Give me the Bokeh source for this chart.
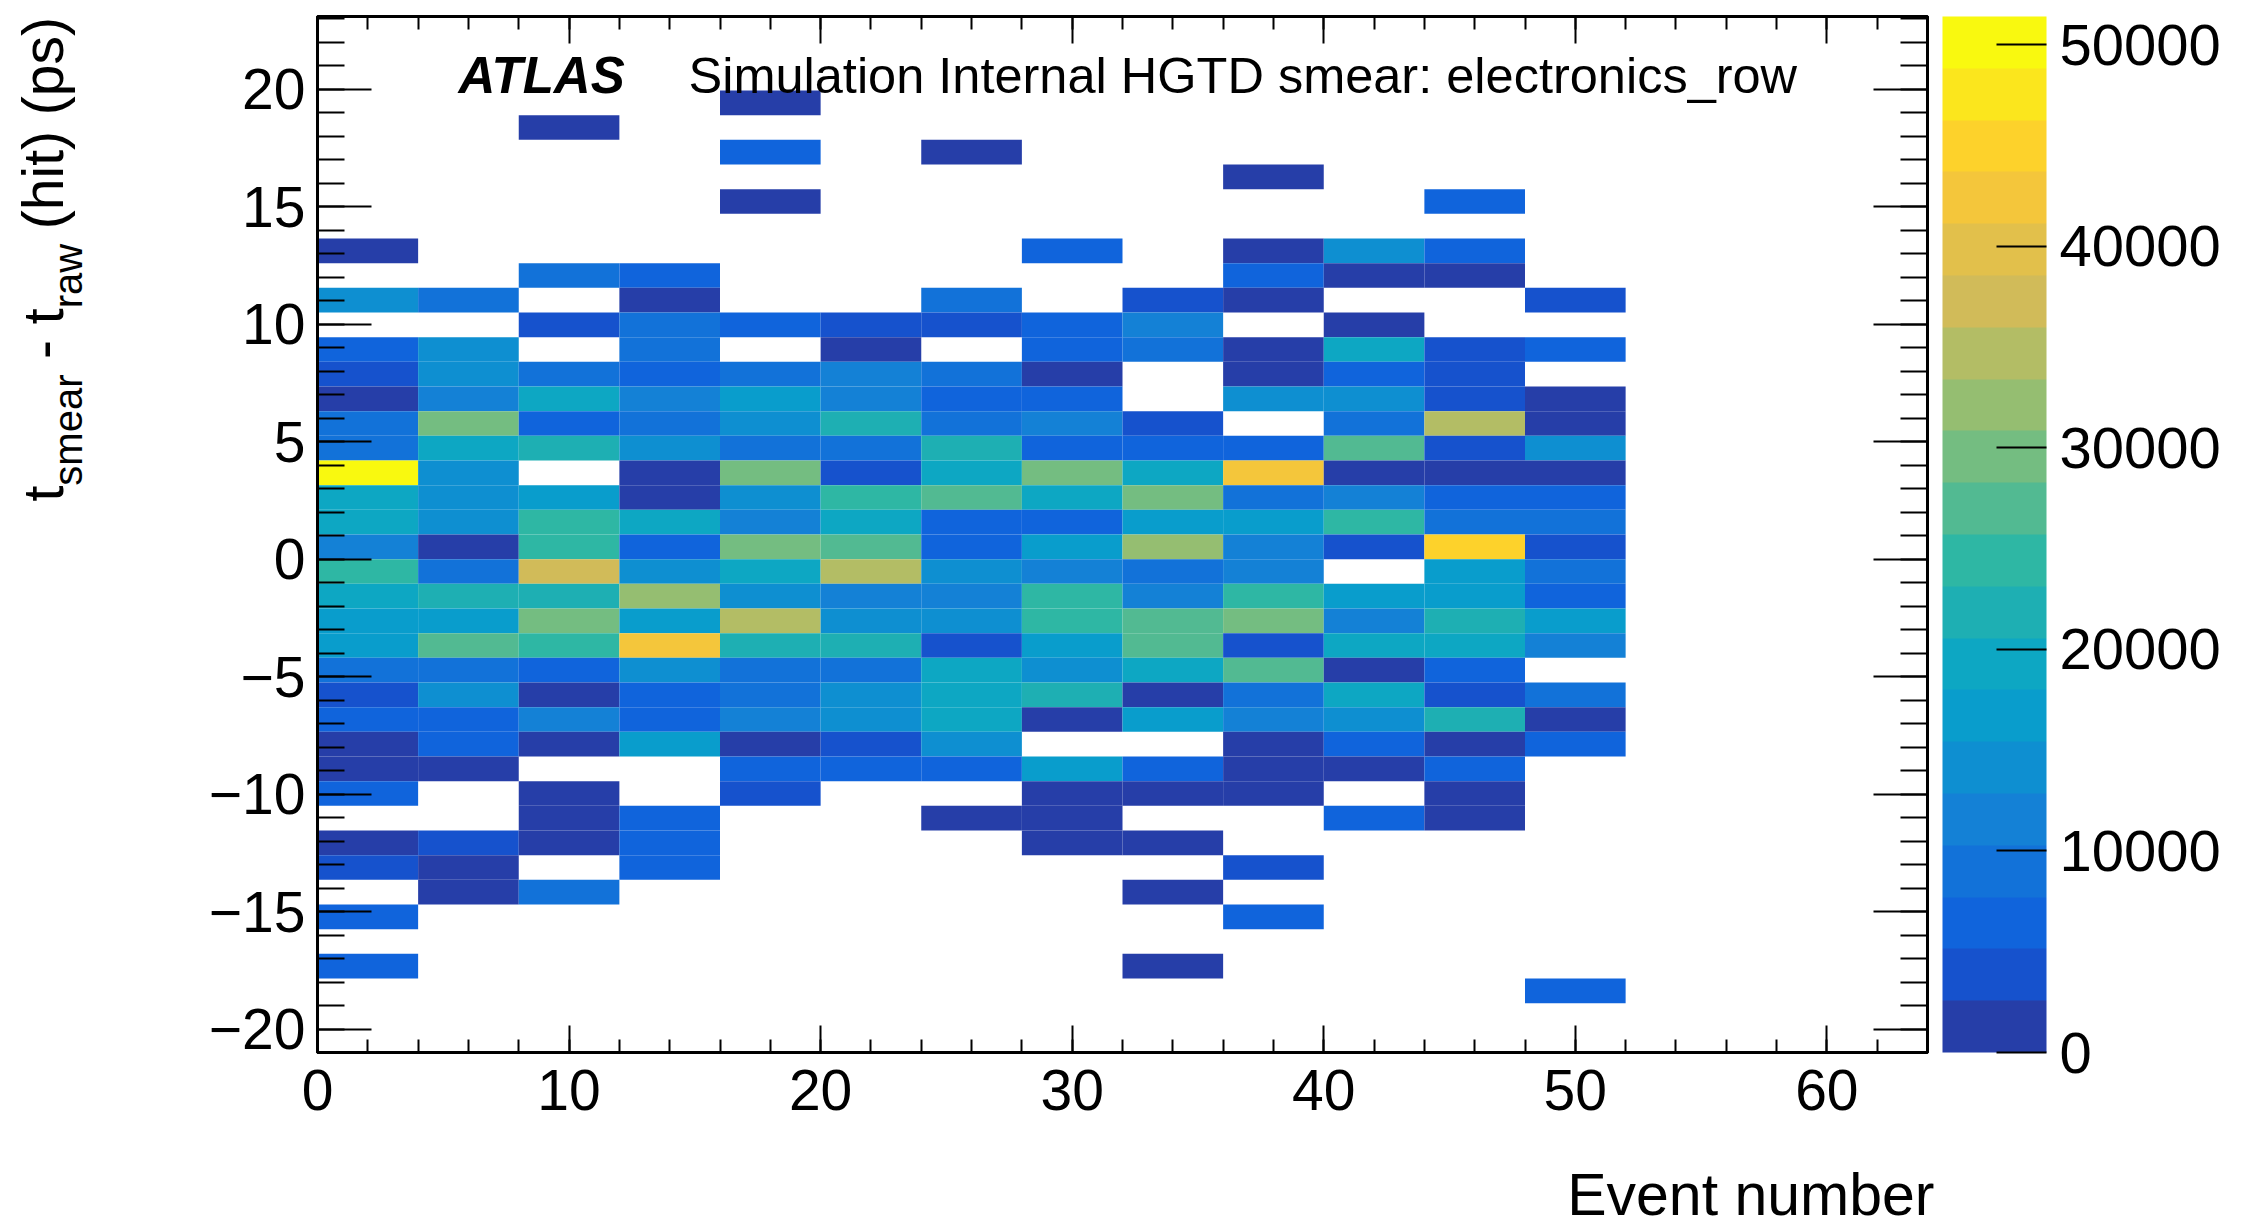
import numpy as np
from bokeh.plotting import figure
from bokeh.layouts import row, column
from bokeh.models import (ColumnDataSource, LinearColorMapper, ColorBar, LinearAxis,
                          SingleIntervalTicker, CustomJSTickFormatter, Label, Range1d)
from bokeh.core.properties import value
from bokeh.embed import file_html
from bokeh.resources import INLINE

# ---------------- data ----------------
# x bins: event number, width 4
event_bin_edges = [0, 4, 8, 12, 16, 20, 24, 28, 32, 36, 40, 44, 48, 52]
# y bins: t_smear - t_raw (ps), 40 bins from -21 to 21
dt_bin_edges = list(np.round(np.linspace(-21.0, 21.0, 41), 4))

# cell contents in thousands of hits; rows from top y-bin (19.95..21) down to bottom (-21..-19.95)
cell_counts_k = [
    [0, 0, 0, 0, 0, 0, 0, 0, 0, 0, 0, 0, 0],
    [0, 0, 0, 0, 1.3, 0, 0, 0, 0, 0, 0, 0, 0],
    [0, 0, 1.3, 0, 0, 0, 0, 0, 0, 0, 0, 0, 0],
    [0, 0, 0, 0, 6.4, 0, 1.3, 0, 0, 0, 0, 0, 0],
    [0, 0, 0, 0, 0, 0, 0, 0, 0, 1.3, 0, 0, 0],
    [0, 0, 0, 0, 1.3, 0, 0, 0, 0, 0, 0, 6.4, 0],
    [0, 0, 0, 0, 0, 0, 0, 0, 0, 0, 0, 0, 0],
    [1.3, 0, 0, 0, 0, 0, 0, 6.4, 0, 1.3, 14.1, 6.4, 0],
    [0, 0, 9.0, 6.4, 0, 0, 0, 0, 0, 6.4, 1.3, 1.3, 0],
    [14.1, 9.0, 0, 1.3, 0, 0, 9.0, 0, 3.9, 1.3, 0, 0, 3.9],
    [0, 0, 3.9, 9.0, 6.4, 3.9, 3.9, 6.4, 11.6, 0, 1.3, 0, 0],
    [6.4, 14.1, 0, 9.0, 0, 1.3, 0, 6.4, 9.0, 1.3, 19.3, 3.9, 6.4],
    [3.9, 14.1, 9.0, 6.4, 9.0, 11.6, 9.0, 1.3, 0, 1.3, 6.4, 3.9, 0],
    [1.3, 11.6, 19.3, 11.6, 16.7, 11.6, 6.4, 6.4, 0, 14.1, 14.1, 3.9, 1.3],
    [9.0, 29.5, 6.4, 9.0, 14.1, 21.8, 9.0, 11.6, 3.9, 0, 9.0, 34.7, 1.3],
    [9.0, 19.3, 21.8, 14.1, 9.0, 9.0, 21.8, 6.4, 6.4, 6.4, 27.0, 3.9, 14.1],
    [51.4, 14.1, 0, 1.3, 29.5, 3.9, 19.3, 29.5, 19.3, 42.4, 1.3, 1.3, 1.3],
    [19.3, 14.1, 16.7, 1.3, 14.1, 24.4, 27.0, 19.3, 29.5, 9.0, 11.6, 6.4, 6.4],
    [19.3, 14.1, 24.4, 19.3, 11.6, 19.3, 6.4, 6.4, 16.7, 16.7, 24.4, 9.0, 9.0],
    [11.6, 1.3, 24.4, 6.4, 29.5, 27.0, 6.4, 16.7, 32.1, 11.6, 3.9, 44.9, 3.9],
    [24.4, 9.0, 37.2, 14.1, 19.3, 34.7, 14.1, 11.6, 9.0, 11.6, 0, 16.7, 9.0],
    [19.3, 21.8, 21.8, 32.1, 14.1, 11.6, 11.6, 24.4, 11.6, 24.4, 16.7, 16.7, 6.4],
    [16.7, 16.7, 29.5, 16.7, 34.7, 14.1, 14.1, 24.4, 27.0, 29.5, 11.6, 21.8, 16.7],
    [16.7, 27.0, 24.4, 42.4, 21.8, 21.8, 3.9, 16.7, 27.0, 3.9, 19.3, 19.3, 11.6],
    [9.0, 9.0, 6.4, 14.1, 9.0, 9.0, 19.3, 14.1, 19.3, 27.0, 1.3, 6.4, 0],
    [3.9, 14.1, 1.3, 6.4, 9.0, 14.1, 19.3, 21.8, 1.3, 9.0, 19.3, 3.9, 9.0],
    [6.4, 6.4, 11.6, 6.4, 11.6, 14.1, 19.3, 1.3, 16.7, 11.6, 14.1, 21.8, 1.3],
    [1.3, 6.4, 1.3, 16.7, 1.3, 3.9, 14.1, 0, 0, 1.3, 6.4, 1.3, 6.4],
    [1.3, 1.3, 0, 0, 6.4, 6.4, 6.4, 16.7, 6.4, 1.3, 1.3, 6.4, 0],
    [6.4, 0, 1.3, 0, 3.9, 0, 0, 1.3, 1.3, 1.3, 0, 1.3, 0],
    [0, 0, 1.3, 6.4, 0, 0, 1.3, 1.3, 0, 0, 6.4, 1.3, 0],
    [1.3, 3.9, 1.3, 6.4, 0, 0, 0, 1.3, 1.3, 0, 0, 0, 0],
    [3.9, 1.3, 0, 6.4, 0, 0, 0, 0, 0, 3.9, 0, 0, 0],
    [0, 1.3, 9.0, 0, 0, 0, 0, 0, 1.3, 0, 0, 0, 0],
    [6.4, 0, 0, 0, 0, 0, 0, 0, 0, 6.4, 0, 0, 0],
    [0, 0, 0, 0, 0, 0, 0, 0, 0, 0, 0, 0, 0],
    [6.4, 0, 0, 0, 0, 0, 0, 0, 1.3, 0, 0, 0, 0],
    [0, 0, 0, 0, 0, 0, 0, 0, 0, 0, 0, 0, 6.4],
    [0, 0, 0, 0, 0, 0, 0, 0, 0, 0, 0, 0, 0],
    [0, 0, 0, 0, 0, 0, 0, 0, 0, 0, 0, 0, 0],
]

x_ticks_major = 10
y_ticks_major = 5
cbar_tick_step = 10000

# ---------------- palette (ROOT kBird, 20 contours) ----------------
stops = [0.0, 0.125, 0.25, 0.375, 0.5, 0.625, 0.75, 0.875, 1.0]
red = [0.2082, 0.0592, 0.0780, 0.0232, 0.1802, 0.5301, 0.8186, 0.9956, 0.9764]
green = [0.1664, 0.3599, 0.5041, 0.6419, 0.7178, 0.7492, 0.7328, 0.7862, 0.9832]
blue = [0.5293, 0.8684, 0.8385, 0.7914, 0.6425, 0.4662, 0.3499, 0.1968, 0.0539]
NCOL = 255
table = []
for g in range(1, len(stops)):
    n = int(np.floor(NCOL * stops[g])) - int(np.floor(NCOL * stops[g - 1]))
    for c in range(n):
        r = red[g - 1] + c * (red[g] - red[g - 1]) / n
        gg = green[g - 1] + c * (green[g] - green[g - 1]) / n
        b = blue[g - 1] + c * (blue[g] - blue[g - 1]) / n
        table.append("#%02x%02x%02x" % (int(round(r * 255)), int(round(gg * 255)), int(round(b * 255))))
NCONT = 20
palette = [table[min(len(table) - 1, int((i + 0.99) * len(table) / NCONT))] for i in range(NCONT)]

# ---------------- build cells ----------------
left, right, bottom, top, counts = [], [], [], [], []
nrows = len(cell_counts_k)
for r, rw in enumerate(cell_counts_k):
    iy = nrows - 1 - r
    for j, c in enumerate(rw):
        if c > 0:
            left.append(event_bin_edges[j]); right.append(event_bin_edges[j + 1])
            bottom.append(dt_bin_edges[iy]); top.append(dt_bin_edges[iy + 1])
            counts.append(c * 1000.0)
src = ColumnDataSource(dict(left=left, right=right, bottom=bottom, top=top, counts=counts))
zmax = max(counts)
mapper = LinearColorMapper(palette=palette, low=0, high=zmax)

# ---------------- layout geometry (page pixels) ----------------
W, H = 2244, 1229
TW = 130                      # width of the y-title strip
BH = 85                       # height of the x-title strip
HR = H - BH                   # height of the main row
FL, FR, FT = 317, 317, 16
FBOT = 1052                   # frame bottom on page
XR = (0, 64)
YR = (-21, 23.1)
FONT = "Liberation Sans"
TICK_FS = "57px"
CB_FS = "58px"
NB = "\u00a0"
BASE_SHIFT = 0.35             # anchor-to-baseline correction (fraction of font size)

p = figure(width=W - TW, height=HR, x_range=Range1d(*XR), y_range=Range1d(*YR),
           output_backend="svg", toolbar_location=None,
           min_border_left=FL - TW, min_border_right=FR, min_border_top=FT,
           min_border_bottom=HR - FBOT,
           background_fill_color="white", border_fill_color="white")
p.xgrid.visible = False
p.ygrid.visible = False
p.outline_line_color = "black"
p.outline_line_width = 3

p.quad(left="left", right="right", bottom="bottom", top="top", source=src,
       fill_color={"field": "counts", "transform": mapper}, line_color=None)

minus_fmt = CustomJSTickFormatter(code="return tick < 0 ? '\u2212' + Math.abs(tick) : String(tick);")
blank_fmt = CustomJSTickFormatter(code="return '';")

def style_axis(ax, major_in, minor_in, show_labels, standoff):
    ax.major_tick_in = major_in
    ax.major_tick_out = 0
    ax.minor_tick_in = minor_in
    ax.minor_tick_out = 0
    ax.major_tick_line_width = 2
    ax.minor_tick_line_width = 2
    ax.major_tick_line_color = "black"
    ax.minor_tick_line_color = "black"
    ax.axis_line_width = 3
    ax.axis_line_color = "black"
    ax.major_label_standoff = standoff
    ax.axis_label_standoff = 0
    if show_labels:
        ax.major_label_text_font = FONT
        ax.major_label_text_font_size = TICK_FS
        ax.major_label_text_color = "black"
    else:
        ax.major_label_text_font_size = "0px"

xb = p.xaxis[0]
xb.ticker = SingleIntervalTicker(interval=x_ticks_major, num_minor_ticks=5)
xb.formatter = minus_fmt
style_axis(xb, 27, 13, True, 17)

yl = p.yaxis[0]
yl.ticker = SingleIntervalTicker(interval=y_ticks_major, num_minor_ticks=5)
yl.formatter = minus_fmt
style_axis(yl, 54, 27, True, 12)

xt = LinearAxis(ticker=SingleIntervalTicker(interval=x_ticks_major, num_minor_ticks=5), formatter=blank_fmt)
style_axis(xt, 27, 13, False, 0)
p.add_layout(xt, "above")

yr = LinearAxis(ticker=SingleIntervalTicker(interval=y_ticks_major, num_minor_ticks=5), formatter=blank_fmt)
style_axis(yr, 54, 27, False, 0)
yr.axis_label = " "
yr.axis_label_text_font_size = "1px"
yr.axis_label_standoff = 11
p.add_layout(yr, "right")

cb = ColorBar(color_mapper=mapper, width=104, margin=0, padding=0,
              ticker=SingleIntervalTicker(interval=cbar_tick_step),
              major_tick_in=50, major_tick_out=0, major_tick_line_color="black",
              major_tick_line_width=2, minor_tick_line_color=None,
              label_standoff=13, major_label_text_font=FONT,
              major_label_text_font_size=CB_FS, major_label_text_color="black",
              bar_line_color=None, border_line_color=None,
              background_fill_color=None)
p.add_layout(cb, "right")

# ---------------- in-frame texts ----------------
frame_w = W - FL - FR
frame_h = FBOT - FT
def px2x(px):
    return XR[0] + (px - FL) / frame_w * (XR[1] - XR[0])
def px2y(py):
    return YR[1] - (py - FT) / frame_h * (YR[1] - YR[0])

p.add_layout(Label(x=px2x(458), y=px2y(93 - BASE_SHIFT * 51), text="ATLAS", text_font=FONT,
                   text_font_size="51px", text_font_style="bold italic",
                   text_baseline="alphabetic", text_align="left", text_color="black"))
p.add_layout(Label(x=px2x(688), y=px2y(93 - BASE_SHIFT * 50.5),
                   text="Simulation Internal HGTD smear: electronics_row",
                   text_font=FONT, text_font_size="50.5px", text_baseline="alphabetic",
                   text_align="left", text_color="black"))

# ---------------- y-axis title strip (frame aligned with main frame: FT..FBOT) ----------------
tf = figure(width=TW, height=HR, x_range=Range1d(0, TW), y_range=Range1d(HR - FBOT, HR - FT),
            output_backend="svg", toolbar_location=None, min_border=0,
            x_axis_location=None, y_axis_location=None,
            background_fill_color="white", border_fill_color="white")
tf.outline_line_color = None
tf.xgrid.visible = False
tf.ygrid.visible = False

F, f = 57.0, 40.0
sp = 0.278 * F
main_text = "t" + NB * 7 + NB + "-" + NB + "t" + NB * 4 + NB + "(hit)" + NB + "(ps)"
start = 501.0
off_smear = 0.278 * F
off_raw = 0.278 * F + 7 * sp + (0.278 + 0.333 + 0.278 + 0.278) * F
x_main, x_sub = 42.0, 67.0
tx = [x_main, x_sub, x_sub]
ty = [HR - start, HR - (start - off_smear), HR - (start - off_raw)]
tt = [main_text, "smear", "raw"]
tfs = ["%dpx" % F, "%dpx" % f, "%dpx" % f]
tsrc = ColumnDataSource(dict(x=tx, y=ty, text=tt, fs=tfs))
tf.text(x="x", y="y", text="text", source=tsrc, angle=np.pi / 2, text_font=value(FONT),
        text_font_size="fs", text_baseline="alphabetic", text_align="left", text_color="black")

# ---------------- x-axis title strip ----------------
BR = FR - 30                  # a little extra room on the right so the text is not clipped
bf = figure(width=W, height=BH, x_range=Range1d(FL, W - BR), y_range=Range1d(0, BH),
            output_backend="svg", toolbar_location=None,
            min_border_left=FL, min_border_right=BR, min_border_top=0, min_border_bottom=0,
            x_axis_location=None, y_axis_location=None,
            background_fill_color="white", border_fill_color="white")
bf.outline_line_color = None
bf.xgrid.visible = False
bf.ygrid.visible = False
XT_FS = 59.0
bsrc = ColumnDataSource(dict(x=[1934], y=[H - (1215 - BASE_SHIFT * XT_FS)], text=["Event number"]))
bf.text(x="x", y="y", text="text", source=bsrc, text_font=value(FONT),
        text_font_size="%dpx" % XT_FS, text_baseline="alphabetic", text_align="right",
        text_color="black")

layout = column(row(tf, p), bf)
open("out.html", "w").write(file_html(layout, INLINE))
